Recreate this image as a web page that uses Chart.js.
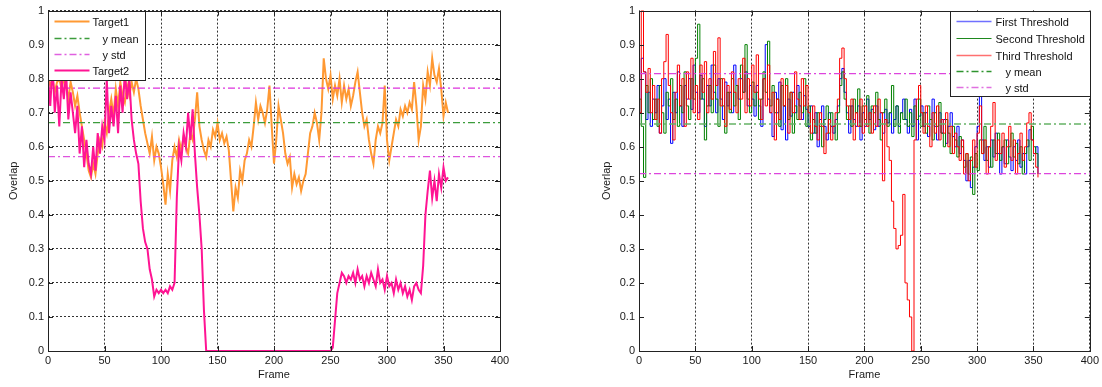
<!DOCTYPE html>
<html>
<head>
<meta charset="utf-8">
<script src="https://cdn.jsdelivr.net/npm/chart.js@4.4.1/dist/chart.umd.min.js"></script>
<style>
  html, body { margin: 0; padding: 0; background: #fff; }
  #wrap { position: relative; width: 1102px; height: 387px; }
  canvas { position: absolute; top: 0; }
</style>
</head>
<body>
<div id="wrap">
  <canvas id="leftChart" width="520" height="387" style="left:0"></canvas>
  <canvas id="rightChart" width="512" height="387" style="left:590px"></canvas>
</div>
<script>
// frame index, one sample every 2 frames
const FRAMES = Array.from({ length: 178 }, (_, i) => i * 2);
const Y_LABELS = ['0', '0.1', '0.2', '0.3', '0.4', '0.5', '0.6', '0.7', '0.8', '0.9', '1'];

// left plot
const TARGET1 = [
  0.80,0.78,0.80,0.76,0.79,0.80,0.77,0.80,0.78,0.74,
  0.79,0.76,0.72,0.75,0.70,0.66,0.62,0.58,0.53,0.51,
  0.55,0.52,0.58,0.62,0.60,0.67,0.64,0.70,0.74,0.69,
  0.77,0.72,0.79,0.75,0.73,0.78,0.75,0.79,0.76,0.80,
  0.77,0.72,0.68,0.64,0.61,0.58,0.63,0.56,0.60,0.58,
  0.54,0.49,0.43,0.52,0.47,0.56,0.60,0.57,0.62,0.59,
  0.63,0.60,0.58,0.64,0.62,0.68,0.76,0.66,0.62,0.59,
  0.57,0.62,0.60,0.65,0.63,0.67,0.62,0.64,0.61,0.63,
  0.59,0.50,0.41,0.48,0.45,0.53,0.50,0.56,0.58,0.62,
  0.60,0.66,0.73,0.68,0.72,0.70,0.67,0.71,0.78,0.66,
  0.55,0.62,0.72,0.68,0.64,0.58,0.55,0.57,0.48,0.52,
  0.49,0.51,0.47,0.50,0.52,0.58,0.64,0.66,0.70,0.67,
  0.62,0.70,0.86,0.80,0.77,0.81,0.74,0.78,0.75,0.80,
  0.73,0.78,0.74,0.77,0.72,0.75,0.79,0.82,0.76,0.70,
  0.66,0.68,0.62,0.58,0.55,0.62,0.66,0.64,0.67,0.78,
  0.62,0.56,0.60,0.64,0.68,0.66,0.71,0.69,0.72,0.70,
  0.73,0.71,0.79,0.72,0.62,0.66,0.78,0.74,0.82,0.78,
  0.86,0.81,0.79,0.83,0.77,0.69,0.73,0.70
];
const TARGET2 = [
  0.80,0.72,0.84,0.70,0.78,0.66,0.80,0.74,0.82,0.68,
  0.76,0.70,0.64,0.72,0.58,0.66,0.54,0.62,0.55,0.52,
  0.60,0.53,0.64,0.58,0.66,0.62,0.80,0.64,0.72,0.66,
  0.75,0.64,0.78,0.70,0.82,0.74,0.80,0.68,0.62,0.58,
  0.55,0.44,0.36,0.32,0.30,0.24,0.21,0.16,0.18,0.17,
  0.18,0.17,0.18,0.17,0.19,0.18,0.20,0.45,0.60,0.56,
  0.64,0.60,0.70,0.62,0.71,0.58,0.48,0.40,0.30,0.12,
  0,0,0,0,0,0,0,0,0,0,
  0,0,0,0,0,0,0,0,0,0,
  0,0,0,0,0,0,0,0,0,0,
  0,0,0,0,0,0,0,0,0,0,
  0,0,0,0,0,0,0,0,0,0,
  0,0,0,0,0,0,0.01,0.09,0.17,0.20,
  0.23,0.22,0.20,0.22,0.21,0.23,0.20,0.24,0.21,0.22,
  0.19,0.22,0.20,0.23,0.21,0.19,0.24,0.20,0.21,0.18,
  0.22,0.19,0.20,0.17,0.21,0.18,0.20,0.17,0.19,0.16,
  0.18,0.15,0.19,0.20,0.18,0.17,0.25,0.40,0.47,0.53,
  0.45,0.50,0.44,0.52,0.48,0.54,0.50,0.51
];
const LEFT_MEAN = 0.671;
const LEFT_STD = [0.772, 0.571];

// right plot
const FIRST_T = [
  0.70,0.86,0.82,0.68,0.76,0.66,0.74,0.70,0.78,0.64,
  0.72,0.80,0.68,0.74,0.61,0.76,0.70,0.82,0.72,0.66,
  0.78,0.74,0.80,0.71,0.84,0.76,0.70,0.81,0.74,0.66,
  0.78,0.72,0.84,0.76,0.70,0.80,0.74,0.68,0.79,0.72,
  0.76,0.70,0.84,0.78,0.74,0.80,0.76,0.82,0.72,0.78,
  0.74,0.69,0.78,0.72,0.66,0.80,0.90,0.74,0.70,0.63,
  0.76,0.70,0.79,0.65,0.72,0.62,0.74,0.69,0.76,0.70,
  0.78,0.72,0.68,0.75,0.71,0.66,0.72,0.64,0.70,0.60,
  0.68,0.72,0.66,0.62,0.70,0.66,0.64,0.68,0.72,0.80,
  0.83,0.76,0.70,0.64,0.72,0.68,0.66,0.72,0.62,0.70,
  0.66,0.74,0.68,0.71,0.65,0.72,0.66,0.70,0.64,0.71,
  0.67,0.70,0.64,0.68,0.72,0.66,0.70,0.74,0.68,0.64,
  0.71,0.66,0.74,0.62,0.69,0.72,0.66,0.70,0.63,0.68,
  0.74,0.66,0.62,0.70,0.64,0.68,0.61,0.66,0.70,0.63,
  0.60,0.66,0.58,0.62,0.56,0.50,0.56,0.48,0.54,0.60,
  0.66,0.78,0.62,0.56,0.60,0.54,0.62,0.57,0.64,0.58,
  0.52,0.60,0.55,0.62,0.57,0.53,0.60,0.56,0.62,0.54,
  0.58,0.52,0.60,0.65,0.62,0.58,0.60,0.52
];
const SECOND_T = [
  0.74,0.66,0.51,0.78,0.70,0.80,0.68,0.74,0.66,0.78,
  0.70,0.64,0.76,0.72,0.80,0.68,0.74,0.66,0.78,0.70,
  0.82,0.72,0.68,0.80,0.74,0.86,0.96,0.74,0.80,0.62,
  0.72,0.78,0.70,0.84,0.74,0.66,0.80,0.72,0.64,0.76,
  0.70,0.80,0.72,0.78,0.68,0.84,0.76,0.90,0.74,0.70,
  0.79,0.72,0.76,0.68,0.74,0.82,0.76,0.91,0.72,0.78,
  0.70,0.74,0.66,0.78,0.72,0.80,0.68,0.76,0.64,0.72,
  0.68,0.76,0.70,0.80,0.66,0.72,0.62,0.68,0.64,0.70,
  0.66,0.60,0.68,0.72,0.64,0.70,0.66,0.62,0.70,0.78,
  0.82,0.74,0.68,0.72,0.66,0.74,0.70,0.77,0.66,0.72,
  0.68,0.75,0.64,0.72,0.70,0.76,0.68,0.62,0.70,0.74,
  0.66,0.70,0.78,0.66,0.72,0.64,0.70,0.68,0.74,0.66,
  0.70,0.63,0.72,0.68,0.74,0.66,0.70,0.64,0.72,0.68,
  0.62,0.70,0.66,0.73,0.64,0.60,0.68,0.64,0.58,0.66,
  0.62,0.57,0.63,0.60,0.54,0.58,0.52,0.57,0.46,0.58,
  0.53,0.62,0.58,0.66,0.56,0.60,0.54,0.62,0.58,0.64,
  0.56,0.60,0.62,0.55,0.60,0.64,0.57,0.61,0.55,0.60,
  0.52,0.58,0.62,0.56,0.66,0.60,0.58,0.54
];
const THIRD_T = [
  0.70,1.00,0.82,0.76,0.83,0.70,0.78,0.68,0.74,0.64,
  0.80,0.85,0.93,0.78,0.70,0.62,0.76,0.84,0.72,0.80,
  0.66,0.82,0.74,0.86,0.70,0.78,0.68,0.84,0.76,0.85,
  0.70,0.80,0.74,0.88,0.78,0.92,0.72,0.80,0.66,0.78,
  0.71,0.82,0.76,0.70,0.80,0.74,0.86,0.70,0.80,0.72,
  0.84,0.76,0.87,0.74,0.68,0.80,0.72,0.84,0.70,0.76,
  0.62,0.74,0.68,0.80,0.72,0.78,0.64,0.76,0.70,0.82,
  0.74,0.68,0.80,0.72,0.78,0.70,0.64,0.72,0.66,0.62,
  0.70,0.66,0.58,0.64,0.68,0.62,0.66,0.70,0.74,0.86,
  0.89,0.80,0.72,0.68,0.74,0.62,0.70,0.66,0.74,0.64,
  0.72,0.66,0.70,0.64,0.72,0.66,0.74,0.70,0.50,0.68,
  0.60,0.56,0.44,0.36,0.30,0.31,0.34,0.46,0.20,0.15,
  0.10,0.00,0.62,0.74,0.78,0.70,0.64,0.72,0.66,0.60,
  0.70,0.64,0.72,0.62,0.68,0.64,0.70,0.60,0.66,0.58,
  0.64,0.60,0.56,0.62,0.52,0.58,0.50,0.56,0.62,0.54,
  0.64,0.72,0.58,0.62,0.52,0.60,0.66,0.73,0.56,0.62,
  0.58,0.64,0.54,0.60,0.66,0.56,0.62,0.52,0.58,0.64,
  0.56,0.60,0.67,0.70,0.62,0.58,0.54,0.51
];
const RIGHT_MEAN = 0.667;
const RIGHT_STD = [0.815, 0.521];

const FONT = '"Liberation Sans", Arial, sans-serif';
const DASH_DOT = [7, 3, 2, 3];

const pts = (vals) => FRAMES.map((f, i) => ({ x: f, y: vals[i] }));
const hline = (v) => [{ x: 0, y: v }, { x: 400, y: v }];

// legend entries drawn inside the axes, MATLAB style
const LEGENDS = {
  leftChart: {
    side: 'left', w: 97, h: 69,
    items: [
      { text: 'Target1', color: '#ff9933', width: 2, dash: [], tx: 44, ty: 10 },
      { text: 'y mean', color: '#3c9c3c', width: 1.3, dash: DASH_DOT, tx: 54, ty: 27 },
      { text: 'y std', color: '#e060e0', width: 1.3, dash: DASH_DOT, tx: 54, ty: 43 },
      { text: 'Target2', color: '#ff1493', width: 2, dash: [], tx: 44, ty: 59 }
    ]
  },
  rightChart: {
    side: 'right', w: 140, h: 85,
    items: [
      { text: 'First Threshold', color: '#7070ff', width: 1.5, dash: [], tx: 45, ty: 10 },
      { text: 'Second Threshold', color: '#1e881e', width: 1.2, dash: [], tx: 45, ty: 27 },
      { text: 'Third Threshold', color: '#ff7070', width: 1.5, dash: [], tx: 45, ty: 44 },
      { text: 'y mean', color: '#2e942e', width: 1.3, dash: DASH_DOT, tx: 55, ty: 60 },
      { text: 'y std', color: '#e070e0', width: 1.3, dash: DASH_DOT, tx: 55, ty: 76 }
    ]
  }
};

const matlabFrame = {
  id: 'matlabFrame',
  afterDatasetsDraw(chart) {
    const { ctx, chartArea: a, scales } = chart;
    ctx.save();
    ctx.setLineDash([]);
    ctx.strokeStyle = '#222';
    ctx.lineWidth = 1;
    ctx.beginPath();
    scales.y.ticks.forEach(t => {
      const y = Math.round(scales.y.getPixelForValue(t.value)) + 0.5;
      ctx.moveTo(a.left, y); ctx.lineTo(a.left + 5, y);
      ctx.moveTo(a.right, y); ctx.lineTo(a.right - 5, y);
    });
    scales.x.ticks.forEach(t => {
      const x = Math.round(scales.x.getPixelForValue(t.value)) + 0.5;
      ctx.moveTo(x, a.bottom); ctx.lineTo(x, a.bottom - 5);
      ctx.moveTo(x, a.top); ctx.lineTo(x, a.top + 5);
    });
    ctx.stroke();
    ctx.strokeRect(Math.round(a.left) + 0.5, Math.round(a.top) + 0.5,
      Math.round(a.right - a.left), Math.round(a.bottom - a.top));

    const lg = LEGENDS[chart.canvas.id];
    if (lg) {
      const L = Math.round(lg.side === 'left' ? a.left : a.right - lg.w) + 0.5;
      const T = Math.round(a.top) + 0.5;
      ctx.fillStyle = '#fff';
      ctx.fillRect(L, T, lg.w, lg.h);
      ctx.strokeStyle = '#222';
      ctx.strokeRect(L, T, lg.w, lg.h);
      ctx.font = '11px ' + FONT;
      ctx.textBaseline = 'middle';
      lg.items.forEach(it => {
        ctx.strokeStyle = it.color;
        ctx.lineWidth = it.width;
        ctx.setLineDash(it.dash);
        ctx.beginPath();
        ctx.moveTo(L + 6, T + it.ty);
        ctx.lineTo(L + 41, T + it.ty);
        ctx.stroke();
        ctx.fillStyle = '#111';
        ctx.fillText(it.text, L + it.tx, T + it.ty + 1);
      });
    }
    ctx.restore();
  }
};

function axes(yWidth, yTitlePad, showYGrid) {
  return {
    x: {
      type: 'linear', min: 0, max: 400,
      afterFit: (s) => { s.height = 36; },
      ticks: { stepSize: 50, autoSkip: false, maxRotation: 0, padding: 3, color: '#1a1a1a',
               font: { family: FONT, size: 11 } },
      grid: { color: 'rgba(0,0,0,0.8)', lineWidth: 1, drawTicks: false },
      border: { display: false, dash: [2, 2] },
      title: { display: true, text: 'Frame', color: '#1a1a1a', padding: { top: 0, bottom: 5 },
               font: { family: FONT, size: 11 } }
    },
    y: {
      type: 'linear', min: 0, max: 1,
      afterFit: (s) => { s.width = yWidth; },
      ticks: { stepSize: 0.1, padding: 4, color: '#1a1a1a', font: { family: FONT, size: 11 },
               callback: (v, i) => Y_LABELS[i] },
      grid: { color: 'rgba(0,0,0,0.8)', lineWidth: 1, drawTicks: false, drawOnChartArea: showYGrid },
      border: { display: false, dash: [2, 2] },
      title: { display: true, text: 'Overlap', color: '#1a1a1a', padding: { top: yTitlePad, bottom: 0 },
               font: { family: FONT, size: 11 } }
    }
  };
}

const lineBase = { pointRadius: 0, tension: 0, fill: false, borderJoinStyle: 'miter' };

new Chart(document.getElementById('leftChart'), {
  type: 'line',
  data: {
    datasets: [
      { ...lineBase, label: 'Target2', data: pts(TARGET2), borderColor: '#ff1493', borderWidth: 2 },
      { ...lineBase, label: 'y std', data: hline(LEFT_STD[0]), borderColor: '#dd33dd', borderWidth: 1.3, borderDash: DASH_DOT },
      { ...lineBase, label: 'y std', data: hline(LEFT_STD[1]), borderColor: '#dd55dd', borderWidth: 1.3, borderDash: DASH_DOT },
      { ...lineBase, label: 'y mean', data: hline(LEFT_MEAN), borderColor: '#3c9c3c', borderWidth: 1.3, borderDash: DASH_DOT },
      { ...lineBase, label: 'Target1', data: pts(TARGET1), borderColor: '#ff9933', borderWidth: 2 }
    ]
  },
  options: {
    responsive: false, animation: false,
    layout: { padding: { top: 8, right: 20, left: 0, bottom: 0 } },
    plugins: { legend: { display: false }, tooltip: { enabled: false } },
    scales: axes(48, 7, true)
  },
  plugins: [matlabFrame]
});

new Chart(document.getElementById('rightChart'), {
  type: 'line',
  data: {
    datasets: [
      { ...lineBase, label: 'y std', data: hline(RIGHT_STD[0]), borderColor: '#dd44dd', borderWidth: 1.3, borderDash: DASH_DOT },
      { ...lineBase, label: 'y std', data: hline(RIGHT_STD[1]), borderColor: '#dd44dd', borderWidth: 1.3, borderDash: DASH_DOT },
      { ...lineBase, label: 'y mean', data: hline(RIGHT_MEAN), borderColor: '#66b266', borderWidth: 1.5, borderDash: DASH_DOT },
      { ...lineBase, label: 'Third Threshold', data: pts(THIRD_T), borderColor: '#ff0000', borderWidth: 1, stepped: true },
      { ...lineBase, label: 'Second Threshold', data: pts(SECOND_T), borderColor: '#008000', borderWidth: 1, stepped: true },
      { ...lineBase, label: 'First Threshold', data: pts(FIRST_T), borderColor: '#0000ff', borderWidth: 1, stepped: true }
    ]
  },
  options: {
    responsive: false, animation: false,
    layout: { padding: { top: 8, right: 10, left: 0, bottom: 0 } },
    plugins: { legend: { display: false }, tooltip: { enabled: false } },
    scales: axes(49, 10, false)
  },
  plugins: [matlabFrame]
});
</script>
</body>
</html>
